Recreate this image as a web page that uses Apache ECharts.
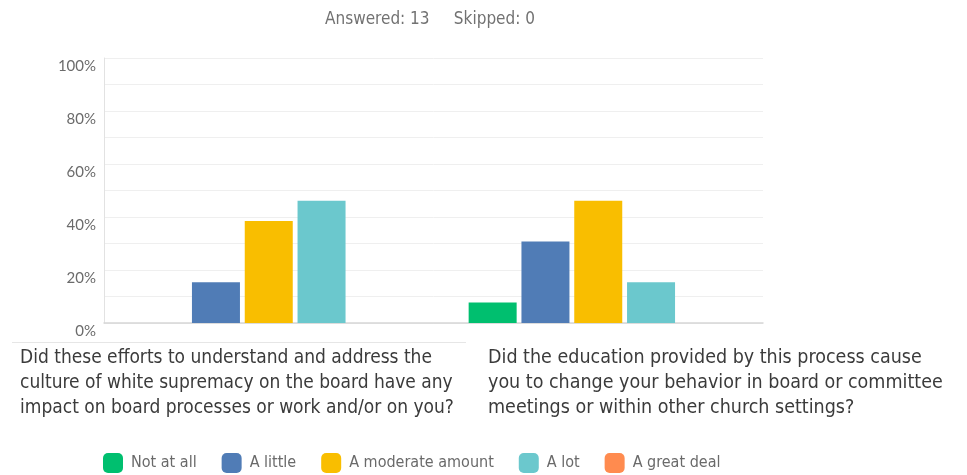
<!DOCTYPE html>
<html>
<head>
<meta charset="utf-8">
<script src="https://cdn.jsdelivr.net/npm/echarts@6/dist/echarts.min.js"></script>
<style>
  html, body { margin: 0; padding: 0; background: #fff; }
  #chart { width: 967px; height: 475px; }
</style>
</head>
<body>
<div id="chart"></div>
<script>
// Survey questions (x categories)
const questions = [
  'Did these efforts to understand and address the\nculture of white supremacy on the board have any\nimpact on board processes or work and/or on you?',
  'Did the education provided by this process cause\nyou to change your behavior in board or committee\nmeetings or within other church settings?'
];
// Answer options (series), percentage of 13 respondents per question
const answerNames = ['Not at all', 'A little', 'A moderate amount', 'A lot', 'A great deal'];
const notAtAll   = [0, 7.69];
const aLittle    = [15.38, 30.77];
const moderate   = [38.46, 46.15];
const aLot       = [46.15, 15.38];
const greatDeal  = [0, 0];
const answerColors = ['#00bf6f', '#507cb6', '#f9be00', '#6bc8cd', '#ff8b4f'];
const yTicks = [0, 20, 40, 60, 80, 100];
const summaryText = 'Answered: 13     Skipped: 0';

const seriesValues = [notAtAll, aLittle, moderate, aLot, greatDeal];
const narrow = '"Liberation Sans Narrow", "DejaVu Sans Condensed", Arial, sans-serif';

const chart = echarts.init(document.getElementById('chart'), null, { renderer: 'canvas' });

chart.setOption({
  animation: false,
  title: {
    text: summaryText,
    left: 425, top: 6, textAlign: 'center',
    textStyle: { fontFamily: narrow, fontSize: 17, fontWeight: 'normal', color: '#727272' }
  },
  legend: {
    data: answerNames,
    left: 103, top: 453, padding: 0,
    itemWidth: 20, itemHeight: 20, itemGap: 25,
    icon: 'roundRect',
    textStyle: { fontFamily: narrow, fontSize: 16, color: '#6a6a6a', padding: [0, 0, 0, 3] }
  },
  grid: { left: 104, right: 204, top: 58, bottom: 152, containLabel: false },
  xAxis: {
    type: 'category',
    data: questions,
    axisLine: { lineStyle: { color: '#d6d6d6', width: 1.5 } },
    axisTick: { show: false },
    axisLabel: { show: false }
  },
  yAxis: {
    type: 'value',
    min: 0, max: 100, interval: 10,
    axisLine: { show: true, lineStyle: { color: '#e2e2e2' } },
    axisTick: { show: false },
    splitLine: { lineStyle: { color: '#efefef' } },
    axisLabel: {
      fontFamily: 'Lato, "Open Sans", sans-serif', fontSize: 15, color: '#6b6b6b',
      margin: 8, verticalAlign: 'top', padding: [1, 0, 0, 0],
      formatter: v => yTicks.includes(v) ? v + '%' : ''
    }
  },
  series: answerNames.map((name, i) => ({
    name,
    type: 'bar',
    data: seriesValues[i],
    itemStyle: { color: answerColors[i] },
    barWidth: 48,
    barGap: '10%',
    barCategoryGap: '21%'
  })),
  graphic: [
    { type: 'line', shape: { x1: 12, y1: 342.5, x2: 466, y2: 342.5 }, style: { stroke: '#e6e6e6', lineWidth: 1 } },
    { type: 'text', left: 20, top: 346, style: { text: questions[0], font: '19px ' + narrow, fill: '#3b3b3b', lineHeight: 25 } },
    { type: 'text', left: 488, top: 345, style: { text: questions[1], font: '19.5px ' + narrow, fill: '#3b3b3b', lineHeight: 25 } }
  ]
});
</script>
</body>
</html>
